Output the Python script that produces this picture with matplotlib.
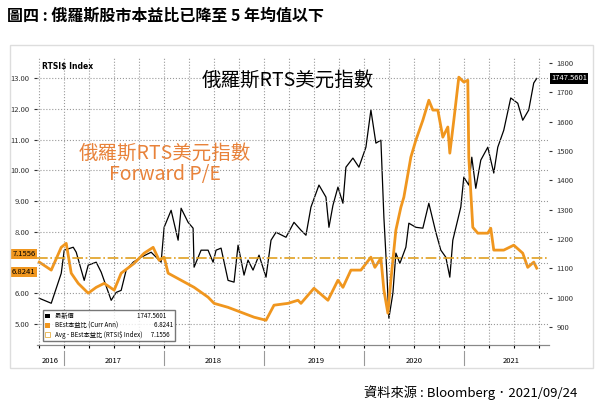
import matplotlib
matplotlib.use("Agg")
import matplotlib.pyplot as plt
from matplotlib.patches import Patch

plt.rcParams['font.family'] = ['Noto Sans CJK TC', 'DejaVu Sans']

rts_t = [2016.75, 2016.87, 2016.97, 2017.00, 2017.09, 2017.12, 2017.20, 2017.24, 2017.32, 2017.37,
         2017.47, 2017.52, 2017.57, 2017.62, 2017.69, 2017.77, 2017.87, 2017.97, 2018.00, 2018.07,
         2018.14, 2018.17, 2018.24, 2018.29, 2018.30, 2018.37, 2018.44, 2018.49, 2018.52, 2018.57,
         2018.64, 2018.70, 2018.74, 2018.80, 2018.84, 2018.89, 2018.95, 2019.02, 2019.07, 2019.12,
         2019.22, 2019.30, 2019.37, 2019.42, 2019.47, 2019.55, 2019.62, 2019.65, 2019.69, 2019.74,
         2019.79, 2019.82, 2019.89, 2019.95, 2020.02, 2020.07, 2020.12, 2020.17, 2020.20, 2020.23,
         2020.25, 2020.29, 2020.32, 2020.36, 2020.42, 2020.45, 2020.52, 2020.59, 2020.65, 2020.72,
         2020.77, 2020.82, 2020.86, 2020.89, 2020.97, 2021.00, 2021.05, 2021.08, 2021.12, 2021.17,
         2021.24, 2021.30, 2021.34, 2021.40, 2021.47, 2021.54, 2021.59, 2021.65, 2021.70, 2021.73]
rts = [998, 981, 1083, 1162, 1172, 1155, 1059, 1111, 1121, 1087,
       991, 1018, 1025, 1094, 1121, 1138, 1155, 1121, 1240, 1298,
       1196, 1305, 1257, 1237, 1104, 1162, 1162, 1121, 1162, 1169,
       1059, 1053, 1179, 1077, 1128, 1094, 1145, 1070, 1196, 1223,
       1206, 1257, 1230, 1213, 1309, 1384, 1343, 1240, 1315, 1377,
       1322, 1445, 1476, 1445, 1513, 1640, 1527, 1537, 1274, 1083,
       930, 1015, 1152, 1117, 1172, 1254, 1240, 1237, 1322, 1223,
       1162, 1138, 1070, 1196, 1309, 1411, 1384, 1479, 1373, 1469,
       1513, 1425, 1513, 1571, 1681, 1663, 1605, 1640, 1732, 1747.5601]

pe_t = [2016.75, 2016.87, 2016.97, 2017.02, 2017.07, 2017.14, 2017.24, 2017.32, 2017.40, 2017.50,
        2017.57, 2017.70, 2017.80, 2017.89, 2017.95, 2018.00, 2018.04, 2018.17, 2018.30, 2018.44,
        2018.50, 2018.64, 2018.77, 2018.90, 2019.02, 2019.10, 2019.24, 2019.34, 2019.37, 2019.50,
        2019.64, 2019.74, 2019.79, 2019.87, 2019.97, 2020.07, 2020.11, 2020.17, 2020.20, 2020.24,
        2020.27, 2020.32, 2020.37, 2020.40, 2020.47, 2020.52, 2020.59, 2020.65, 2020.69, 2020.74,
        2020.79, 2020.84, 2020.86, 2020.90, 2020.95, 2021.00, 2021.04, 2021.05, 2021.09, 2021.14,
        2021.24, 2021.27, 2021.30, 2021.40, 2021.50, 2021.59, 2021.64, 2021.70, 2021.73]
pe = [7.02, 6.76, 7.50, 7.63, 6.66, 6.33, 6.01, 6.20, 6.33, 6.11,
      6.66, 6.98, 7.31, 7.50, 7.08, 7.18, 6.66, 6.43, 6.20, 5.88,
      5.68, 5.55, 5.39, 5.23, 5.13, 5.62, 5.68, 5.78, 5.68, 6.17,
      5.78, 6.43, 6.20, 6.76, 6.76, 7.18, 6.85, 7.15, 6.11, 5.36,
      6.43, 8.06, 8.80, 9.13, 10.43, 10.98, 11.63, 12.28, 11.96, 11.96,
      11.08, 11.41, 10.56, 11.63, 13.03, 12.87, 12.93, 10.43, 8.15, 7.96,
      7.96, 8.12, 7.41, 7.41, 7.57, 7.31, 6.85, 7.02, 6.8241]

pe_avg = 7.1556
years = ["2016", "2017", "2018", "2019", "2020", "2021"]
year_pos = [2016.86, 2017.49, 2018.49, 2019.52, 2020.50, 2021.47]
pe_ticks = [5, 6, 8, 9, 10, 11, 12, 13]

orange = "#F0961E"
fig = plt.figure(figsize=(6.01, 4.09), dpi=100)
fig.text(0.012, 0.962, "圖四 : 俄羅斯股市本益比已降至 5 年均值以下", fontsize=11.5,
         fontweight="bold", va="center")
fig.text(0.96, 0.04, "資料來源 : Bloomberg．2021/09/24", fontsize=9.5, ha="right", va="center")
fig.patches.append(plt.Rectangle((0.017, 0.10), 0.97, 0.79, transform=fig.transFigure,
                                 fill=False, ec="#dddddd", lw=1))

ax = fig.add_axes([0.062, 0.156, 0.851, 0.702])
ax2 = ax.twinx()
ax.set_zorder(ax2.get_zorder() + 1)
ax.patch.set_visible(False)

ax.plot(pe_t, pe, color=orange, lw=2.0)
ax.axhline(pe_avg, color="#E0A020", lw=1.2, ls="-.")
ax2.plot(rts_t, rts, color="black", lw=0.9)

ax.set_xlim(2016.73, 2021.85)
ax.set_ylim(4.32, 13.65)
ax2.set_ylim(838, 1817)
ax.set_yticks(pe_ticks)
ax.set_yticklabels([f"{v:.2f}" for v in pe_ticks])
ax2.set_yticks(range(900, 1801, 100))
ax.tick_params(axis="y", labelsize=5.5, colors="#333333", length=2)
ax2.tick_params(axis="y", labelsize=5.5, colors="#333333", length=2)
ax.set_xticks([2017 + i / 12 for i in range(-3, 58, 3)])
ax.set_xticklabels([])
ax.tick_params(axis="x", length=2)
for p, y in zip(year_pos, years):
    ax.text(p, -0.04, y, transform=ax.get_xaxis_transform(), fontsize=5.5, ha="center", va="top")
for b in [2017, 2018, 2019, 2020, 2021]:
    ax.plot([b, b], [-0.02, -0.07], transform=ax.get_xaxis_transform(), color="#999999",
            lw=0.8, clip_on=False)
ax.grid(True, ls=":", color="#999999", lw=0.8)
ax.axhline(7, color="#999999", ls=":", lw=0.8)
for a in (ax, ax2):
    a.spines["top"].set_visible(False)
    a.spines["right"].set_visible(False)
    a.spines["left"].set_visible(False)
    a.spines["bottom"].set_color("#888888")

ax.text(0.01, 0.985, "RTSI$ Index", transform=ax.transAxes, fontsize=5.5, fontweight="bold",
        va="top", family=["DejaVu Sans"])
ax.text(0.49, 0.905, "俄羅斯RTS美元指數", transform=ax.transAxes, fontsize=14, ha="center")
ax.text(0.25, 0.575, "俄羅斯RTS美元指數\nForward P/E", transform=ax.transAxes, fontsize=14,
        ha="center", color="#E8823A", linespacing=1.05)

ax.text(-0.003, pe_avg + 0.12, "7.1556", transform=ax.get_yaxis_transform(), fontsize=5.5,
        ha="right", va="center", bbox=dict(boxstyle="square,pad=0.15", fc=orange, ec="none"))
ax.text(-0.003, 6.8241 - 0.12, "6.8241", transform=ax.get_yaxis_transform(), fontsize=5.5,
        ha="right", va="center", bbox=dict(boxstyle="square,pad=0.15", fc=orange, ec="none"))
ax2.text(1.005, 1747.56, "1747.5601", transform=ax2.get_yaxis_transform(), fontsize=5.5,
         color="white", va="center", bbox=dict(boxstyle="square,pad=0.15", fc="black", ec="none"))

handles = [Patch(fc="black"), Patch(fc=orange), Patch(fc="white", ec="#E0A020", lw=0.5)]
labels = ["最新價                                              1747.5601",
          "BEst本益比 (Curr Ann)                          6.8241",
          "Avg - BEst本益比 (RTSI$ Index)      7.1556"]
ax.legend(handles, labels, loc="lower left", fontsize=4.5, handlelength=0.8, handleheight=0.8,
          borderpad=0.3, labelspacing=0.2, fancybox=False, edgecolor="#555555",
          bbox_to_anchor=(0.005, 0.005))

fig.savefig("out.png", dpi=100)
